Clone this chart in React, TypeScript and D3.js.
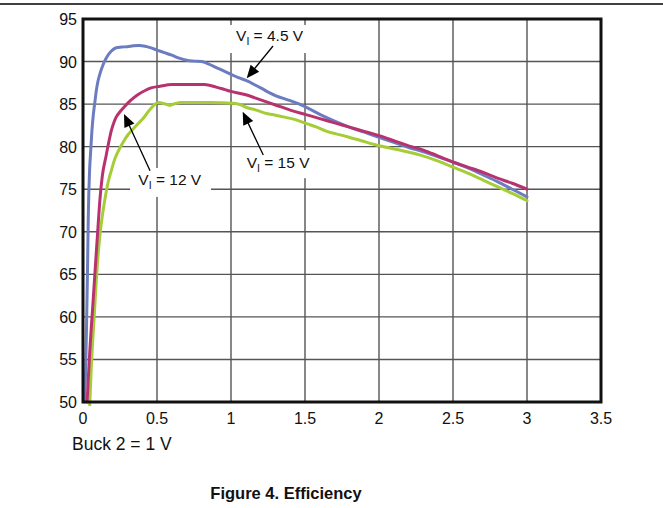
import React from "react";
import * as d3 from "d3";

// Output current (A) and efficiency (%) for each input voltage
const xTicks = [0, 0.5, 1, 1.5, 2, 2.5, 3, 3.5];
const yTicks = [50, 55, 60, 65, 70, 75, 80, 85, 90, 95];

const vin45X = [0.01, 0.018, 0.024, 0.03, 0.036, 0.044, 0.052, 0.06, 0.07, 0.08, 0.09, 0.1, 0.115, 0.135, 0.16, 0.19, 0.22, 0.26, 0.3, 0.34, 0.38, 0.42, 0.46, 0.5, 0.55, 0.6, 0.65, 0.7, 0.75, 0.8, 0.85, 0.9, 0.95, 1.0, 1.05, 1.1, 1.2, 1.3, 1.4, 1.5, 1.6, 1.7, 1.8, 1.9, 2.0, 2.1, 2.2, 2.3, 2.4, 2.5, 2.6, 2.7, 2.8, 2.9, 3.0];
const vin45Y = [50, 54, 59, 65, 72, 77, 79.5, 81.8, 83.8, 85.2, 86.6, 87.6, 88.6, 89.6, 90.5, 91.2, 91.6, 91.7, 91.75, 91.85, 91.9, 91.8, 91.6, 91.35, 91.05, 90.75, 90.4, 90.15, 90.05, 90.0, 89.7, 89.3, 88.9, 88.5, 88.1, 87.8, 86.9, 86.0, 85.4, 84.7, 83.8, 83.0, 82.3, 81.7, 81.1, 80.5, 79.9, 79.4, 78.8, 78.2, 77.5, 76.7, 75.9, 75.0, 74.1];

const vin12X = [0.028, 0.035, 0.045, 0.055, 0.065, 0.08, 0.1, 0.113, 0.13, 0.157, 0.175, 0.19, 0.21, 0.225, 0.25, 0.28, 0.32, 0.37, 0.42, 0.46, 0.52, 0.6, 0.7, 0.82, 0.9, 0.96, 1.0, 1.1, 1.2, 1.3, 1.4, 1.5, 1.6, 1.7, 1.8, 1.9, 2.0, 2.1, 2.2, 2.3, 2.4, 2.5, 2.6, 2.7, 2.8, 2.9, 3.0];
const vin12Y = [50, 52.5, 55.7, 58.5, 61, 65, 70.2, 73.5, 76.5, 79, 80.6, 81.8, 82.9, 83.5, 84.1, 84.7, 85.4, 86.1, 86.6, 86.9, 87.1, 87.3, 87.3, 87.3, 87.0, 86.7, 86.5, 86.1, 85.5, 84.9, 84.3, 83.8, 83.3, 82.8, 82.3, 81.8, 81.3, 80.7, 80.1, 79.6, 78.9, 78.2, 77.6, 77.0, 76.3, 75.7, 75.0];

const vin15X = [0.045, 0.056, 0.065, 0.074, 0.082, 0.09, 0.1, 0.113, 0.13, 0.147, 0.16, 0.175, 0.19, 0.21, 0.236, 0.27, 0.304, 0.34, 0.372, 0.41, 0.44, 0.475, 0.507, 0.55, 0.586, 0.62, 0.66, 0.75, 0.867, 0.95, 1.02, 1.06, 1.106, 1.17, 1.24, 1.3, 1.353, 1.43, 1.51, 1.58, 1.647, 1.71, 1.78, 1.88, 1.98, 2.14, 2.28, 2.4, 2.5, 2.6, 2.7, 2.8, 2.9, 3.0];
const vin15Y = [49.5, 54.1, 57, 59.6, 62, 64.3, 66.8, 69.4, 71.8, 73.7, 75, 76.2, 77.1, 78.3, 79.4, 80.5, 81.4, 82.1, 82.7, 83.4, 84.1, 84.8, 85.2, 85.05, 84.85, 85.05, 85.2, 85.2, 85.2, 85.15, 85.1, 84.95, 84.6, 84.3, 83.9, 83.7, 83.5, 83.2, 82.7, 82.3, 81.8, 81.5, 81.2, 80.7, 80.2, 79.6, 79.0, 78.3, 77.6, 76.9, 76.1, 75.3, 74.5, 73.65];

const seriesNames = ["4.5 V", "15 V", "12 V"];
const seriesColors = ["#6b7cc0", "#a6cd38", "#b8326f"];
const seriesX = [vin45X, vin15X, vin12X];
const seriesY = [vin45Y, vin15Y, vin12Y];

// Callout labels in data units: label, text anchor, arrow tail, arrow tip, background box
const calloutVolts = ["4.5 V", "12 V", "15 V"];
const calloutText = [[1.034, 92.45], [0.374, 75.46], [1.106, 77.46]];
const calloutTail = [[1.284, 91.83], [0.453, 77.17], [1.218, 79.02]];
const calloutTip = [[1.106, 88.03], [0.277, 83.84], [1.079, 84.11]];
const calloutBox = [[0.966, 94.3, 1.547, 91.0], [0.318, 77.5, 0.865, 74.1], [1.06, 79.6, 1.547, 76.3]];

const W = 663;
const H = 508;
const M = { left: 83, right: 601, top: 19, bottom: 402 };
const FONT = "'Liberation Sans', Arial, Helvetica, sans-serif";

export default function App() {
  const x = d3.scaleLinear().domain([0, 3.5]).range([M.left, M.right]);
  const y = d3.scaleLinear().domain([50, 95]).range([M.bottom, M.top]);

  const line = d3
    .line<[number, number]>()
    .x((d) => x(d[0]))
    .y((d) => y(d[1]))
    .curve(d3.curveMonotoneX);

  const arrowHead = (tail: number[], tip: number[]) => {
    const tx = x(tail[0]);
    const ty = y(tail[1]);
    const px = x(tip[0]);
    const py = y(tip[1]);
    const dx = px - tx;
    const dy = py - ty;
    const len = Math.hypot(dx, dy);
    const ux = dx / len;
    const uy = dy / len;
    const hl = 13;
    const hw = 5.5;
    const bx = px - ux * hl;
    const by = py - uy * hl;
    return {
      line: [tx, ty, bx + ux * 2, by + uy * 2],
      head: `${px},${py} ${bx - uy * hw},${by + ux * hw} ${bx + uy * hw},${by - ux * hw}`,
    };
  };

  return (
    <div style={{ position: "absolute", left: 0, top: 0 }}>
      <svg width={W} height={H} style={{ display: "block", background: "#fff" }}>
        <line x1={0} x2={W} y1={4} y2={4} stroke="#000" strokeWidth={1.5} />

        <defs>
          <clipPath id="plot-clip">
            <rect x={M.left} y={M.top} width={M.right - M.left} height={M.bottom - M.top + 4} />
          </clipPath>
        </defs>

        {/* grid */}
        {xTicks.slice(1, -1).map((t) => (
          <line key={"gx" + t} x1={x(t)} x2={x(t)} y1={M.top} y2={M.bottom} stroke="#555" strokeWidth={1.4} />
        ))}
        {yTicks.slice(1, -1).map((t) => (
          <line key={"gy" + t} x1={M.left} x2={M.right} y1={y(t)} y2={y(t)} stroke="#555" strokeWidth={1.4} />
        ))}

        {/* label backgrounds */}
        {calloutBox.map((b, i) => (
          <rect
            key={"bx" + i}
            x={x(b[0])}
            y={y(b[1])}
            width={x(b[2]) - x(b[0])}
            height={y(b[3]) - y(b[1])}
            fill="#fff"
          />
        ))}

        {/* curves */}
        <g clipPath="url(#plot-clip)">
          {seriesX.map((xs, i) => (
            <path
              key={seriesNames[i]}
              d={line(xs.map((v, j) => [v, seriesY[i][j]] as [number, number])) || ""}
              fill="none"
              stroke={seriesColors[i]}
              strokeWidth={3}
              strokeLinejoin="round"
              strokeLinecap="round"
            />
          ))}
        </g>

        {/* frame */}
        <rect
          x={M.left}
          y={M.top}
          width={M.right - M.left}
          height={M.bottom - M.top}
          fill="none"
          stroke="#111"
          strokeWidth={3}
        />

        {/* tick labels */}
        {yTicks.map((t) => (
          <text
            key={"ty" + t}
            x={M.left - 6}
            y={y(t) + 6}
            textAnchor="end"
            fontFamily={FONT}
            fontSize={16}
            fill="#111"
          >
            {t}
          </text>
        ))}
        {xTicks.map((t) => (
          <text
            key={"tx" + t}
            x={x(t)}
            y={424}
            textAnchor="middle"
            fontFamily={FONT}
            fontSize={16}
            fill="#111"
          >
            {t}
          </text>
        ))}

        {/* callouts */}
        {calloutVolts.map((v, i) => {
          const a = arrowHead(calloutTail[i], calloutTip[i]);
          return (
            <g key={"co" + i}>
              <line x1={a.line[0]} y1={a.line[1]} x2={a.line[2]} y2={a.line[3]} stroke="#000" strokeWidth={1.3} />
              <polygon points={a.head} fill="#000" />
              <text
                x={x(calloutText[i][0])}
                y={y(calloutText[i][1])}
                fontFamily={FONT}
                fontSize={15.5}
                fill="#111"
              >
                V
                <tspan fontSize={10.5} dy={4}>I</tspan>
                <tspan dy={-4}>{" = " + v}</tspan>
              </text>
            </g>
          );
        })}

        <text x={72} y={450} fontFamily={FONT} fontSize={17.5} fill="#111">
          Buck 2 = 1 V
        </text>

        <text x={286} y={499} textAnchor="middle" fontFamily={FONT} fontSize={16.5} fontWeight="bold" fill="#111">
          Figure 4. Efficiency
        </text>
      </svg>
    </div>
  );
}
